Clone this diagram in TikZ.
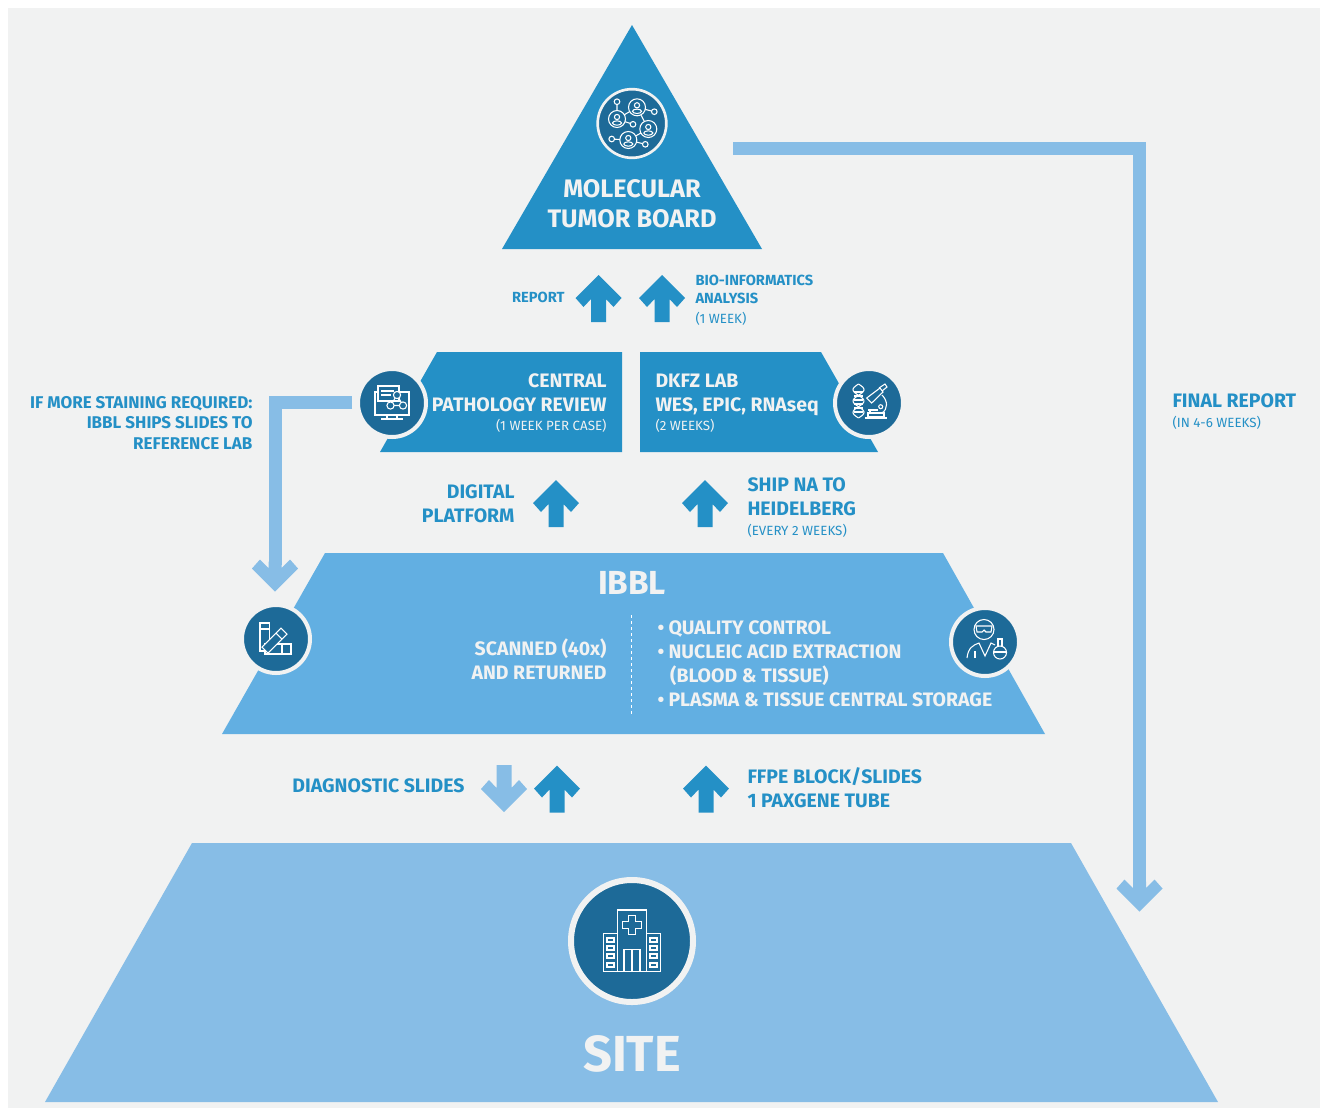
\documentclass[tikz,border=0pt]{standalone}
\usepackage{fontspec}
\setmainfont{Fira Sans}

\definecolor{panelgray}{HTML}{F1F2F2}
\definecolor{boardblue}{HTML}{2490C6}
\definecolor{ibblblue}{HTML}{62AFE2}
\definecolor{siteblue}{HTML}{87BDE6}
\definecolor{markblue}{HTML}{1D6A98}

\tikzset{every picture/.style={line width=0.75pt}}
\tikzset{
	ringmark/.style={circle,fill=markblue,draw=panelgray,line width=3pt,minimum size=51pt,inner sep=0pt},
	iconline/.style={draw=white,line width=0.8pt},
	flowline/.style={draw=siteblue,line width=9.75pt},
	bigtitle/.style={text=panelgray,inner sep=0pt,font=\bfseries\fontsize{19}{22.5}\selectfont,align=center},
	boxtitle/.style={text=panelgray,inner sep=0pt,font=\bfseries\fontsize{14.6}{18}\selectfont},
	boxnote/.style={text=panelgray,inner sep=0pt,font=\fontsize{10}{12}\selectfont},
	sidetitle/.style={text=boardblue,inner sep=0pt,font=\bfseries\fontsize{14.6}{18}\selectfont},
	smalltitle/.style={text=boardblue,inner sep=0pt,font=\bfseries\fontsize{11}{13.5}\selectfont},
	sidenote/.style={text=boardblue,inner sep=0pt,font=\fontsize{10}{12}\selectfont},
	pics/blockarrow/.style={code={
		\fill[pic actions] (0,0) -- (23,-23) -- (15,-32) -- (7.5,-24) -- (7.5,-47) -- (-7.5,-47) -- (-7.5,-24) -- (-15,-32) -- (-23,-23) -- cycle ;
	}},
	pics/flowhead/.style={code={
		\fill[pic actions] (0,0) -- (23,-23) -- (15,-32) -- (6.5,-23.5) -- (6.5,-30) -- (-6.5,-30) -- (-6.5,-23.5) -- (-15,-32) -- (-23,-23) -- cycle ;
	}},
	pics/personmark/.style={code={
		\draw[iconline] (0,0) circle (8.5) ;
		\draw[iconline] (0,2) circle (2.6) ;
		\draw[iconline] (0,-4) ellipse (4.5 and 2.2) ;
	}}
}
\newcommand{\listdot}{\makebox[8.25pt][l]{\textbullet}}

\begin{document}
\begin{tikzpicture}[x=0.75pt,y=0.75pt,yscale=-1,xscale=1]
	\useasboundingbox (0,0) rectangle (1320,1111);

	%Panel
	\fill[white] (0,0) rectangle (1320,1111);
	\fill[panelgray] (8,8) rectangle (1320,1108);

	%Layers
	\fill[boardblue] (632,25) -- (762,249) -- (502,249) -- cycle ;
	\fill[boardblue] (437,352) -- (622,352) -- (622,452) -- (380,452) -- cycle ;
	\fill[boardblue] (640,352) -- (821,352) -- (878,452) -- (640,452) -- cycle ;
	\fill[ibblblue] (325,553) -- (943,553) -- (1045,734) -- (222,734) -- cycle ;
	\fill[siteblue] (192,843) -- (1071,843) -- (1218,1102) -- (45,1102) -- cycle ;

	%Connectors
	\coordinate (finalstart) at (733,148);
	\coordinate (finalend) at (1139.5,885);
	\coordinate (stainstart) at (352,402);
	\coordinate (stainend) at (275,565);
	\draw[flowline] (finalstart) -| (finalend) ;
	\draw[flowline] (stainstart) -| (stainend) ;
	\pic[fill=siteblue] at (1139.5,911.5) [rotate=180] {flowhead};
	\pic[fill=siteblue] at (275,591.5) [rotate=180] {flowhead};

	%Block arrows
	\foreach \ax/\ay in {598.5/275,662/275,556/480,705/480,557/765.5,706/765.5}
		\pic[fill=boardblue] at (\ax,\ay) {blockarrow};
	\pic[fill=siteblue] at (504,812) [rotate=180] {blockarrow};

	%Marks
	\node[ringmark,line width=2pt,minimum size=51.5pt] (boardmark) at (632,123.5) {};
	\node[ringmark] (reviewmark) at (392,403) {};
	\node[ringmark] (labmark) at (869,403) {};
	\node[ringmark] (slidemark) at (276,639) {};
	\node[ringmark] (qualitymark) at (985,642) {};
	\node[ringmark,line width=4.5pt,minimum size=91.5pt] (sitemark) at (632,941) {};

	%Board icon
	\draw[iconline] (617,101.7) -- (617,119) -- (637,107.3) -- (654.3,111.7) ;
	\draw[iconline] (617,119) -- (633,124.3) ;
	\draw[iconline] (637,107.3) -- (648.3,129) -- (628.3,140) -- (611.7,139) ;
	\draw[iconline] (628.3,140) -- (645.3,144.3) ;
	\foreach \px/\py in {637/107.3,617/119,648.3/129,628.3/140}{
		\fill[markblue] (\px,\py) circle (8.5) ;
		\pic at (\px,\py) {personmark};
	}
	\foreach \px/\py in {617/101.7,654.3/111.7,633/124.3,611.7/139,645.3/144.3}
		\draw[iconline,fill=markblue] (\px,\py) circle (2.8) ;

	%Review icon
	\draw[iconline] (375,392) rectangle (409,415) ;
	\draw[iconline,fill=markblue] (378,386) rectangle (399,401) ;
	\draw[iconline] (381,391) -- (394,391) (381,395) -- (391,395) ;
	\draw[iconline] (397,395) -- (390.5,405.5) -- (403,405.5) -- cycle ;
	\foreach \px/\py in {397/395,390.5/405.5,403/405.5}
		\draw[iconline,fill=markblue] (\px,\py) circle (3.6) ;
	\draw[iconline] (387,415) -- (387,419) (397,415) -- (397,419) (381,419) -- (403,419) ;

	%Lab icon
	\draw[iconline] plot[domain=0:1,samples=30] ({858.5+5.5*sin(\x*540)},{384+34*\x}) ;
	\draw[iconline] plot[domain=0:1,samples=30] ({858.5-5.5*sin(\x*540)},{384+34*\x}) ;
	\foreach \ry in {392,396,400,404,408,412}
		\draw[iconline] (854,\ry) -- (863,\ry) ;
	\draw[iconline] (866.7,398) -- (880,388) -- (883,392) -- (871.7,403) -- cycle ;
	\draw[iconline] (879,388) -- (885,384) -- (887,387) -- (882,391) ;
	\draw[iconline] (882,395) .. controls (888,401) and (888,409) .. (882,413) ;
	\draw[iconline] (880.7,406.7) circle (2) ;
	\draw[iconline] (868,410) -- (878,410) (870,410) -- (870,413) ;
	\draw[iconline] (868,413) rectangle (884,417) ;
	\draw[iconline] (865,418) -- (887,418) ;

	%Slide icon
	\draw[iconline] (260,623) rectangle (269.5,651) ;
	\draw[iconline] (260,629) -- (269.5,629) ;
	\draw[iconline] (265,644) rectangle (291,654) ;
	\draw[iconline] (282,644) -- (282,654) ;
	\draw[iconline,fill=markblue] (262,647) -- (281,628) -- (287,634) -- (268,653) -- cycle ;
	\draw[iconline] (276,633) -- (282,639) ;

	%Quality icon
	\draw[iconline] (984,629.5) circle (10) ;
	\draw[iconline] (976,626) -- (992,626) -- (991,632) -- (986,632) -- (984,630) -- (982,632) -- (977,632) -- cycle ;
	\draw[iconline] (967,658) .. controls (968,648) and (973,645) .. (979,643) -- (985,656) -- (991,643) -- (995,645) ;
	\draw[iconline] (975,658) -- (975,651) ;
	\draw[iconline] (1000,652.5) circle (6.5) ;
	\draw[iconline] (998,646) -- (998,639) -- (1002,639) -- (1002,646) ;
	\draw[iconline] (993.5,652) -- (1006.5,652) ;

	%Site icon
	\draw[iconline,line width=1pt] (617.7,971.7) -- (617.7,910) -- (646.7,910) -- (646.7,971.7) ;
	\draw[iconline,line width=1pt] (603.3,933.3) rectangle (660.7,971.7) ;
	\draw[iconline,line width=1pt,fill=markblue] (617.7,933.3) -- (617.7,971.7) -- (646.7,971.7) -- (646.7,933.3) ;
	\fill[markblue] (618.4,932) rectangle (646,935) ;
	\draw[iconline,line width=1pt] (628.5,915.5) -- (635.5,915.5) -- (635.5,921.5) -- (641.5,921.5) -- (641.5,928.5) -- (635.5,928.5) -- (635.5,934.5) -- (628.5,934.5) -- (628.5,928.5) -- (622.5,928.5) -- (622.5,921.5) -- (628.5,921.5) -- cycle ;
	\draw[iconline,line width=1pt] (624,971.7) -- (624,949.5) -- (640,949.5) -- (640,971.7) (632,949.5) -- (632,971.7) ;
	\foreach \wy in {940,948,956,965}{
		\draw[iconline] (607,\wy-2) rectangle (614,\wy+2) ;
		\draw[iconline] (650,\wy-2) rectangle (657,\wy+2) ;
	}

	%Dashed divider
	\coordinate (dividertop) at (631.5,615);
	\coordinate (dividerbottom) at (631.5,715);
	\draw[draw=white,line width=0.6pt,dash pattern=on 2.5pt off 2pt] (dividertop) -- (dividerbottom) ;

	% Text Node
	\node[bigtitle] (boardtitle) at (632,204) {MOLECULAR\\TUMOR BOARD};
	\node[smalltitle,anchor=east] (reporttext) at (565,297) {REPORT};
	\node[smalltitle,anchor=west,align=left] (biotext) at (695,289) {BIO-INFORMATICS\\ANALYSIS};
	\node[sidenote,anchor=west] (biotime) at (695,318.5) {(1 WEEK)};
	\node[boxtitle,anchor=east,align=right] (reviewtext) at (607,393) {CENTRAL\\PATHOLOGY REVIEW};
	\node[boxnote,anchor=east] (reviewtime) at (607,426) {(1 WEEK PER CASE)};
	\node[boxtitle,anchor=west,align=left] (labtext) at (655,395) {DKFZ LAB\\WES, EPIC, RNAseq};
	\node[boxnote,anchor=west] (labtime) at (655,426) {(2 WEEKS)};
	\node[anchor=east,align=right,inner sep=0pt,text=boardblue,font=\bfseries\fontsize{12.75}{15.4}\selectfont] (staintext) at (253,423) {IF MORE STAINING REQUIRED:\\IBBL SHIPS SLIDES TO\\REFERENCE LAB};
	\node[sidetitle,anchor=east,align=right] (digitaltext) at (515,504) {DIGITAL\\PLATFORM};
	\node[sidetitle,anchor=west,align=left] (shiptext) at (747,497) {SHIP NA TO\\HEIDELBERG};
	\node[sidenote,anchor=west] (shiptime) at (747,530.5) {(EVERY 2 WEEKS)};
	\node[text=panelgray,inner sep=0pt,font=\bfseries\fontsize{25}{25}\selectfont] (ibbltitle) at (632,583) {IBBL};
	\node[boxtitle,anchor=east,align=right] (scantext) at (607,659) {SCANNED (40x)\\AND RETURNED};
	\node[boxtitle,anchor=west,align=left] (qualitytext) at (657,663.5) {\listdot QUALITY CONTROL\\\listdot NUCLEIC ACID EXTRACTION\\\hspace*{9.5pt}(BLOOD \& TISSUE)\\\listdot PLASMA \& TISSUE CENTRAL STORAGE};
	\node[sidetitle,anchor=east] (slidetext) at (465,786) {DIAGNOSTIC SLIDES};
	\node[sidetitle,anchor=west,align=left] (ffpetext) at (747,788) {FFPE BLOCK/SLIDES\\1 PAXGENE TUBE};
	\node[text=panelgray,inner sep=0pt,font=\bfseries\fontsize{38}{38}\selectfont] (sitetitle) at (632,1054) {SITE};
	\node[sidetitle,anchor=west] (finaltext) at (1172,401) {FINAL REPORT};
	\node[sidenote,anchor=west] (finaltime) at (1172,423) {(IN 4-6 WEEKS)};
\end{tikzpicture}
\end{document}
